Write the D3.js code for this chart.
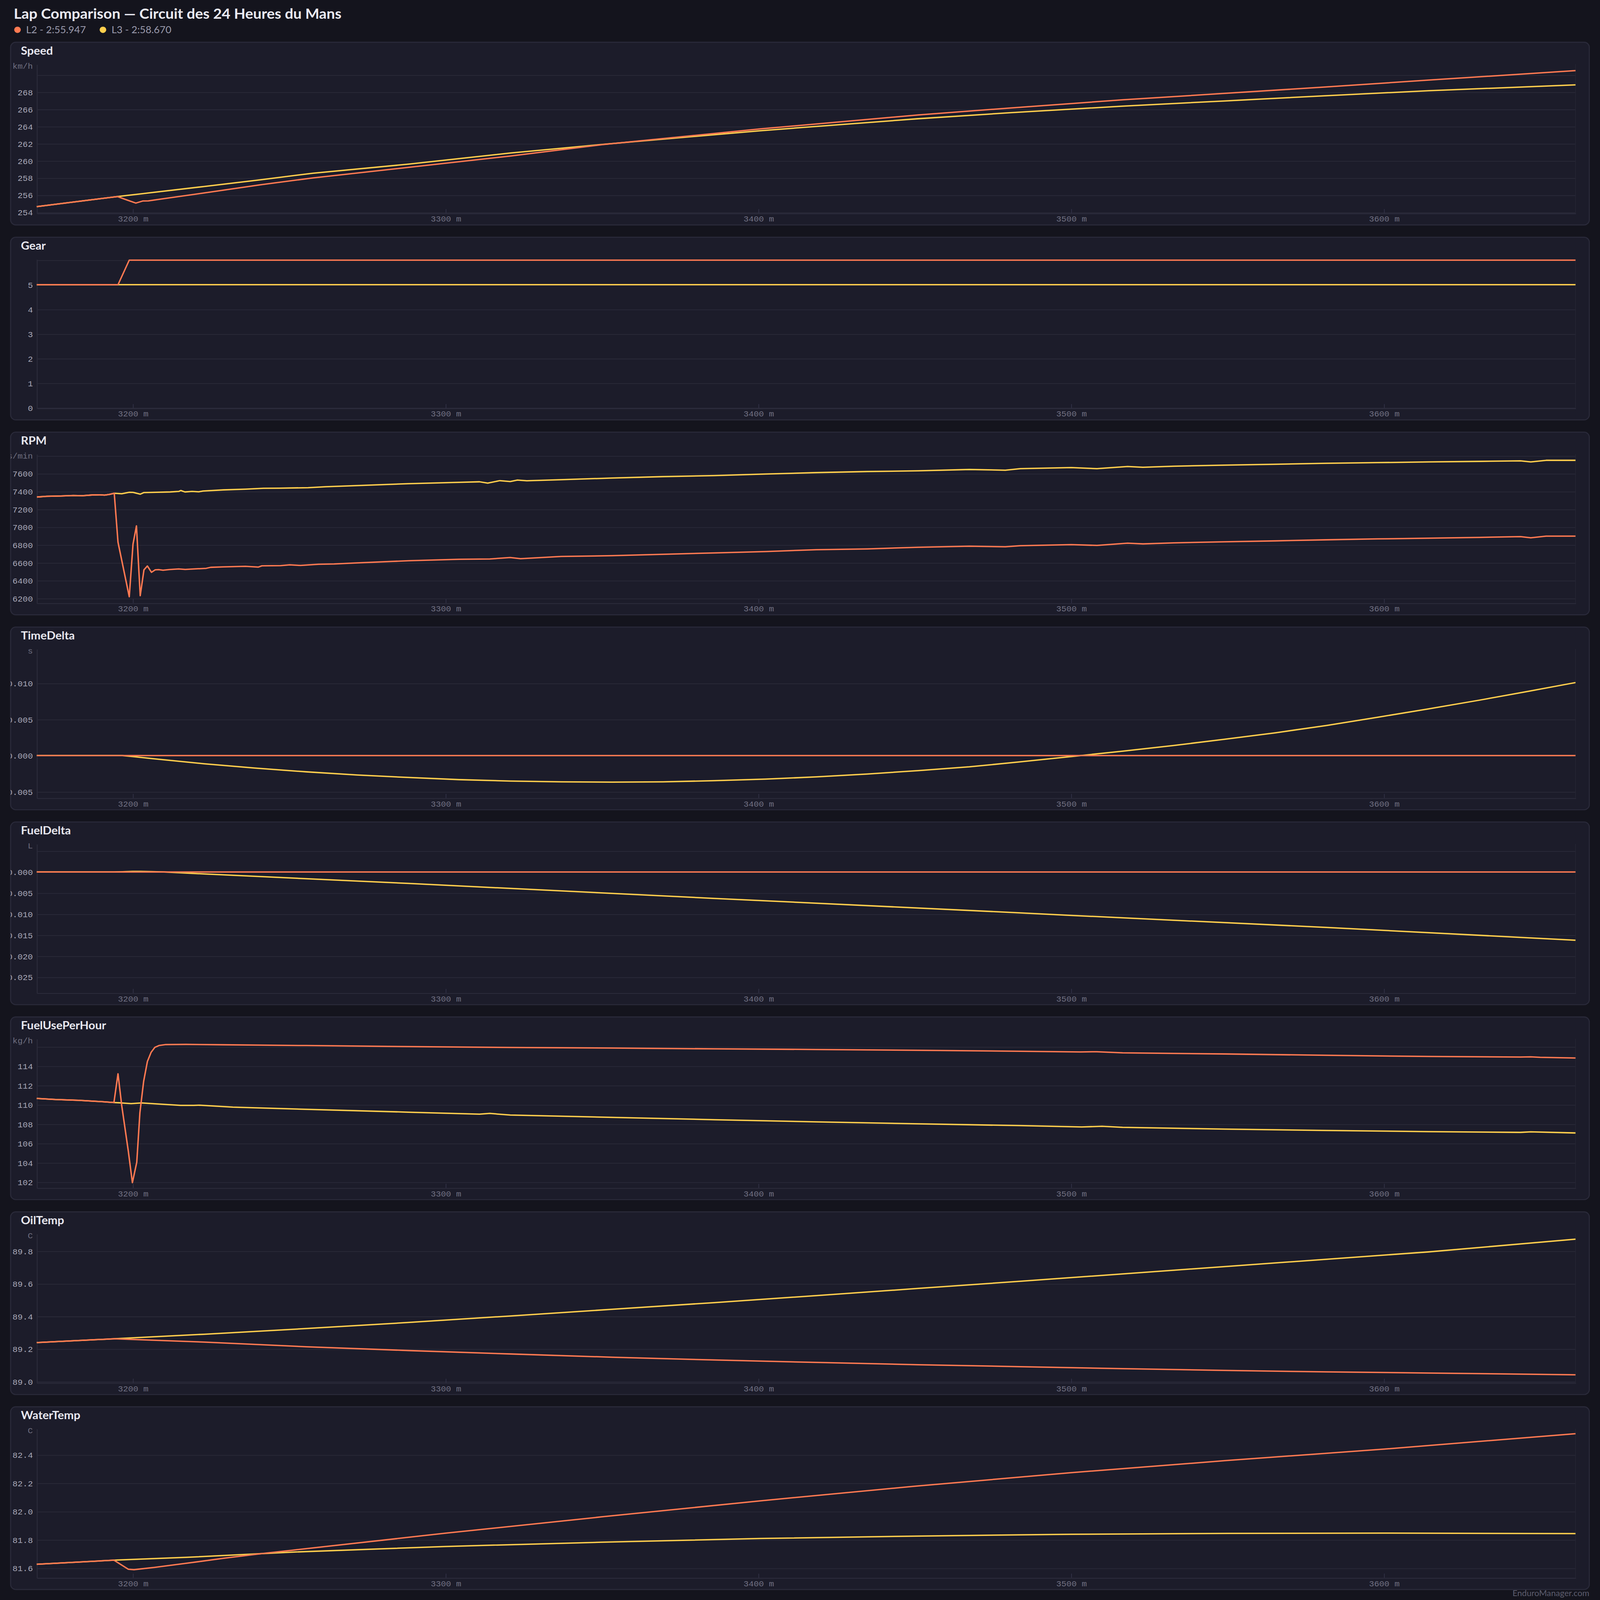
<!DOCTYPE html>
<html>
<head>
<meta charset="utf-8">
<script src="https://cdn.jsdelivr.net/npm/d3@7"></script>
<style>
  html, body { margin: 0; padding: 0; background: #14141d; overflow: hidden; }
  svg { display: block; }
</style>
</head>
<body>
<script>
// lap names shown in the legend
var lapNames = ["L2 - 2:55.947", "L3 - 2:58.670"];
var lapColors = ["#ff7a52", "#ffcf4d"];

// visible distance window (m)
var distRange = [3169.3, 3661.3];

// Speed (km/h)
var speedDist = [3169.3, 3180, 3190, 3195.1, 3198, 3201, 3203.2, 3205, 3222.8, 3240.9, 3257.6, 3288.1, 3320.7, 3350.1, 3400.6, 3451.2, 3480.6, 3516.5, 3549.1, 3581.7, 3614.3, 3661.3];
var speedL2 = [254.65, 255.14, 255.6, 255.83, 255.45, 255.07, 255.31, 255.33, 256.25, 257.2, 258.0, 259.23, 260.55, 261.88, 263.71, 265.34, 266.15, 267.1, 267.85, 268.6, 269.4, 270.5];
var speedL3 = [254.65, 255.14, 255.6, 255.83, 255.95, 256.08, 256.17, 256.25, 257.0, 257.78, 258.55, 259.6, 260.9, 261.9, 263.5, 264.9, 265.6, 266.36, 266.97, 267.58, 268.16, 268.84];

// Gear
var gearDist = [3169.3, 3195.3, 3198.9, 3661.3];
var gearL2 = [5, 5, 6, 6];
var gearL3 = [5, 5, 5, 5];

// RPM
var rpmL2Dist = [3169.4, 3172.5, 3177, 3181, 3184, 3187, 3189.5, 3191, 3192.5, 3194.1, 3195.3, 3198.9, 3200.1, 3201.2, 3202.4, 3203.6, 3204.7, 3206.0, 3207.2, 3208.3, 3209.7, 3211.8, 3214.7, 3216.8, 3219.6, 3223.5, 3224.9, 3228.8, 3236.0, 3240.2, 3241.3, 3247.3, 3250.2, 3253.7, 3259.4, 3264.4, 3271.8, 3288.1, 3304.4, 3314.2, 3320.7, 3324, 3337, 3353.3, 3369.6, 3386, 3402.3, 3418.6, 3434.9, 3451.2, 3467.5, 3479, 3483.8, 3500.1, 3508.3, 3518.1, 3523, 3532.8, 3549.1, 3565.4, 3581.7, 3598, 3614.3, 3630.6, 3643.7, 3647, 3651.9, 3661.3];
var rpmL2 = [7337, 7345, 7349, 7354, 7352, 7360, 7362, 7358, 7366, 7379, 6830, 6218, 6809, 7013, 6230, 6520, 6563, 6492, 6520, 6522, 6516, 6523, 6530, 6524, 6530, 6537, 6548, 6553, 6560, 6551, 6565, 6567, 6576, 6569, 6583, 6586, 6598, 6622, 6638, 6642, 6658, 6645, 6670, 6679, 6694, 6710, 6725, 6746, 6755, 6773, 6785, 6779, 6791, 6803, 6794, 6819, 6811, 6823, 6835, 6845, 6857, 6867, 6875, 6884, 6893, 6879, 6898, 6898];
var rpmL3Dist = [3169.4, 3172.5, 3177, 3181, 3184, 3187, 3189.5, 3191, 3192.5, 3194.1, 3196.5, 3198.9, 3200.1, 3202.4, 3203.6, 3207.6, 3212, 3214.7, 3215.4, 3216.7, 3219, 3221.1, 3222.5, 3229, 3236.1, 3241.8, 3246.8, 3256.1, 3261.8, 3269.5, 3288.1, 3304.4, 3310.9, 3313.5, 3317.4, 3320.7, 3323, 3326, 3337, 3353.3, 3369.6, 3386, 3402.3, 3418.6, 3434.9, 3451.2, 3467.5, 3479, 3483.8, 3500.1, 3508.3, 3518.1, 3523, 3532.8, 3549.1, 3565.4, 3581.7, 3598, 3614.3, 3630.6, 3643.7, 3647, 3651.9, 3661.3];
var rpmL3 = [7337, 7345, 7349, 7354, 7352, 7360, 7362, 7358, 7366, 7379, 7374, 7390, 7389, 7369, 7387, 7390, 7394, 7400, 7410, 7394, 7400, 7396, 7404, 7417, 7425, 7435, 7436, 7442, 7453, 7462, 7487, 7502, 7508, 7493, 7521, 7511, 7527, 7519, 7532, 7550, 7566, 7578, 7595, 7611, 7623, 7631, 7646, 7638, 7655, 7667, 7655, 7679, 7671, 7683, 7695, 7705, 7716, 7723, 7731, 7737, 7743, 7731, 7749, 7749];

// TimeDelta (s)
var timeL2Dist = [3169.3, 3661.3];
var timeL2 = [0, 0];
var timeL3Dist = [3169.3, 3194.1, 3196.7, 3200.0, 3206.5, 3222.8, 3239.1, 3255.5, 3271.8, 3288.1, 3304.4, 3320.7, 3337, 3353.3, 3369.6, 3386, 3402.3, 3418.6, 3434.9, 3451.2, 3467.5, 3483.8, 3500.1, 3516.5, 3532.8, 3549.1, 3565.4, 3581.7, 3598, 3614.3, 3630.6, 3646.9, 3661.3];
var timeL3 = [0, 0, 0, -0.00014, -0.00043, -0.00113, -0.00173, -0.00225, -0.00269, -0.00303, -0.00333, -0.00352, -0.00364, -0.00367, -0.00364, -0.00347, -0.00326, -0.00295, -0.00255, -0.00208, -0.00156, -0.00087, -0.00014, 0.00061, 0.00139, 0.00225, 0.00315, 0.00416, 0.00529, 0.00645, 0.00766, 0.00893, 0.01009];

// FuelDelta (L)
var fuelDL2Dist = [3169.3, 3661.3];
var fuelDL2 = [0, 0];
var fuelDL3Dist = [3169.3, 3194.1, 3196.7, 3200, 3202.5, 3206.5, 3210, 3222.8, 3288.1, 3386, 3483.8, 3500.1, 3581.7, 3661.3];
var fuelDL3 = [0, 0, 0.00005, 0.00014, 0.00015, 0.00008, 0, -0.00046, -0.00272, -0.00628, -0.00972, -0.01032, -0.01318, -0.01623];

// FuelUsePerHour (kg/h)
var fuelUL2Dist = [3169.3, 3175.4, 3182.6, 3188.5, 3194.0, 3195.3, 3196.5, 3198.6, 3199.9, 3201.3, 3202.3, 3203.5, 3204.7, 3205.9, 3207.1, 3208.4, 3210.6, 3217.1, 3229, 3240.9, 3255.5, 3288.1, 3320.7, 3353.3, 3386, 3418.6, 3451.2, 3483.8, 3503, 3508.3, 3516.5, 3549.1, 3581.7, 3614.3, 3643.7, 3647, 3650, 3661.3];
var fuelUL2 = [110.65, 110.54, 110.46, 110.35, 110.23, 113.2, 109.89, 105.19, 101.94, 104.05, 109.17, 112.42, 114.47, 115.43, 115.94, 116.12, 116.22, 116.24, 116.2, 116.16, 116.12, 116.01, 115.92, 115.86, 115.78, 115.71, 115.63, 115.53, 115.46, 115.48, 115.37, 115.25, 115.11, 114.99, 114.93, 114.95, 114.9, 114.83];
var fuelUL3Dist = [3169.3, 3175.4, 3182.6, 3188.5, 3194.0, 3196.3, 3199.5, 3202.8, 3208.2, 3215.3, 3219.5, 3221.3, 3232, 3250.9, 3288.1, 3310.9, 3314.2, 3320.7, 3353.3, 3386, 3418.6, 3451.2, 3483.8, 3503.4, 3509.9, 3516.5, 3549.1, 3581.7, 3614.3, 3643.7, 3647, 3661.3];
var fuelUL3 = [110.65, 110.54, 110.46, 110.35, 110.23, 110.19, 110.11, 110.19, 110.07, 109.93, 109.93, 109.95, 109.75, 109.57, 109.23, 109.02, 109.1, 108.93, 108.69, 108.45, 108.23, 108.02, 107.84, 107.7, 107.77, 107.66, 107.48, 107.34, 107.22, 107.14, 107.2, 107.08];

// OilTemp (C)
var oilDist = [3169.3, 3194.1, 3222.8, 3255.5, 3288.1, 3320.7, 3353.3, 3386, 3418.6, 3451.2, 3483.8, 3516.5, 3549.1, 3581.7, 3614.3, 3661.3];
var oilL2 = [89.239, 89.262, 89.242, 89.213, 89.19, 89.169, 89.149, 89.132, 89.117, 89.103, 89.091, 89.079, 89.068, 89.059, 89.052, 89.041];
var oilL3 = [89.239, 89.262, 89.29, 89.325, 89.362, 89.402, 89.443, 89.484, 89.527, 89.571, 89.615, 89.66, 89.705, 89.75, 89.795, 89.873];

// WaterTemp (C)
var waterL2Dist = [3169.3, 3194.0, 3198.6, 3200.4, 3207, 3217.1, 3229, 3240.9, 3250.9, 3300.2, 3350, 3400.6, 3450, 3500.1, 3550, 3600, 3661.3];
var waterL2 = [81.627, 81.656, 81.592, 81.589, 81.605, 81.634, 81.669, 81.702, 81.726, 81.847, 81.962, 82.075, 82.178, 82.274, 82.36, 82.44, 82.549];
var waterL3Dist = [3169.3, 3194.0, 3217.1, 3250.9, 3300.2, 3350, 3400.6, 3450, 3500.1, 3550, 3600, 3661.3];
var waterL3 = [81.627, 81.656, 81.676, 81.713, 81.753, 81.783, 81.809, 81.826, 81.839, 81.845, 81.847, 81.844];

// panel names, units and y ranges
var panelNames = ["Speed", "Gear", "RPM", "TimeDelta", "FuelDelta", "FuelUsePerHour", "OilTemp", "WaterTemp"];
var panelUnits = ["km/h", "", "revs/min", "s", "L", "kg/h", "C", "C"];
var panelDomains = [
  [253.89, 271.25], [-0.02, 6.04], [6147, 7819], [-0.00587, 0.01473],
  [-0.02876, 0.00667], [101.40, 116.81], [88.992, 89.906], [81.532, 82.584]
];

// pair up distances and values for each lap
function zip(ds, vs) { return ds.map(function(d, i) { return { d: d, v: vs[i] }; }); }
var panelSeries = [
  [zip(speedDist, speedL2), zip(speedDist, speedL3)],
  [zip(gearDist, gearL2), zip(gearDist, gearL3)],
  [zip(rpmL2Dist, rpmL2), zip(rpmL3Dist, rpmL3)],
  [zip(timeL2Dist, timeL2), zip(timeL3Dist, timeL3)],
  [zip(fuelDL2Dist, fuelDL2), zip(fuelDL3Dist, fuelDL3)],
  [zip(fuelUL2Dist, fuelUL2), zip(fuelUL3Dist, fuelUL3)],
  [zip(oilDist, oilL2), zip(oilDist, oilL3)],
  [zip(waterL2Dist, waterL2), zip(waterL3Dist, waterL3)]
];

// the layout is in css px of the original page; the svg is stretched over the window
var pageW = 1509.1, pageH = 1567.7;

var panelX = 10, panelW = 1489, panelH = 179;
var panelTop0 = 41.4, panelStep = 191;
var plotLeft = 34.6, plotRight = 1486;
var plotTop = 21.5, plotBottom = 167.5;

var monoFont = "'Liberation Mono', 'DejaVu Sans Mono', monospace";
var sansFont = "Lato, 'Noto Sans', sans-serif";

var winW = window.innerWidth || 5481, winH = window.innerHeight || 5694;

var svg = d3.select("body")
  .append("svg")
  .attr("width", winW)
  .attr("height", winH)
  .attr("viewBox", `0 0 ${pageW} ${pageH}`)
  .attr("preserveAspectRatio", "none");

svg.append("rect")
  .attr("width", pageW)
  .attr("height", pageH)
  .attr("fill", "#14141d");

// header
svg.append("text")
  .attr("x", 13)
  .attr("y", 18.3)
  .attr("font-family", sansFont)
  .attr("font-weight", 700)
  .attr("font-size", 14)
  .attr("fill", "#ebebf3")
  .text("Lap Comparison — Circuit des 24 Heures du Mans");

var legendX = [16.5, 97.1];
lapNames.forEach(function(name, i) {
  svg.append("circle")
    .attr("cx", legendX[i])
    .attr("cy", 29.2)
    .attr("r", 3.1)
    .attr("fill", lapColors[i]);
  svg.append("text")
    .attr("x", legendX[i] + 8.1)
    .attr("y", 32.5)
    .attr("font-family", sansFont)
    .attr("font-size", 9.5)
    .attr("fill", "#9a9aac")
    .text(name);
});

var x = d3.scaleLinear()
  .domain(distRange)
  .range([plotLeft, plotRight]);

var defs = svg.append("defs");

panelNames.forEach(function(name, i) {
  var g = svg.append("g")
    .attr("transform", `translate(0, ${panelTop0 + i * panelStep})`);

  defs.append("clipPath")
    .attr("id", "clip" + i)
    .append("rect")
    .attr("x", panelX)
    .attr("y", 0)
    .attr("width", panelW)
    .attr("height", panelH)
    .attr("rx", 5);

  g.append("rect")
    .attr("x", panelX)
    .attr("y", 0)
    .attr("width", panelW)
    .attr("height", panelH)
    .attr("rx", 5)
    .attr("fill", "#1c1c2a")
    .attr("stroke", "#2a2a3a")
    .attr("stroke-width", 1);

  var inner = g.append("g").attr("clip-path", `url(#clip${i})`);

  inner.append("text")
    .attr("x", 19.7)
    .attr("y", 12)
    .attr("font-family", sansFont)
    .attr("font-weight", 700)
    .attr("font-size", 11)
    .attr("fill", "#e8e8f0")
    .text(name);

  var y = d3.scaleLinear()
    .domain(panelDomains[i])
    .range([plotBottom, plotTop]);

  // y grid + labels
  var yAxis = inner.append("g")
    .attr("transform", `translate(${plotLeft}, 0)`)
    .call(d3.axisLeft(y)
      .ticks(6)
      .tickFormat(y.tickFormat(6, "f"))
      .tickSize(-(plotRight - plotLeft))
      .tickSizeOuter(0)
      .tickPadding(3.6));
  yAxis.select(".domain").attr("stroke", "#2c2c3c").attr("stroke-width", 0.8);
  yAxis.selectAll(".tick line").attr("stroke", "#2a2a39").attr("stroke-width", 0.7);
  yAxis.selectAll(".tick text")
    .attr("font-family", monoFont)
    .attr("font-size", 8)
    .attr("fill", "#a9a9b8");
  // the label right under the unit is dropped
  yAxis.selectAll(".tick")
    .filter(function(d) { return y(d) - plotTop < 13; })
    .select("text").remove();

  // faint right edge of the plot
  inner.append("line")
    .attr("x1", plotRight).attr("x2", plotRight)
    .attr("y1", plotTop).attr("y2", plotBottom)
    .attr("stroke", "#252534")
    .attr("stroke-width", 0.6);

  inner.append("text")
    .attr("x", plotLeft - 3.6)
    .attr("y", plotTop + 4.5)
    .attr("text-anchor", "end")
    .attr("font-family", monoFont)
    .attr("font-size", 8)
    .attr("fill", "#6f6f80")
    .text(panelUnits[i]);

  // x axis
  var xAxis = inner.append("g")
    .attr("transform", `translate(0, ${plotBottom})`)
    .call(d3.axisBottom(x)
      .ticks(5)
      .tickSize(-4)
      .tickSizeOuter(0)
      .tickPadding(2.6)
      .tickFormat(function(d) { return d + " m"; }));
  xAxis.select(".domain").attr("stroke", "#2c2c3c").attr("stroke-width", 0.8);
  xAxis.selectAll(".tick line").attr("stroke", "#34344a").attr("stroke-width", 0.6);
  xAxis.selectAll(".tick text")
    .attr("font-family", monoFont)
    .attr("font-size", 8)
    .attr("fill", "#717183");

  var line = d3.line()
    .x(function(p) { return x(p.d); })
    .y(function(p) { return y(p.v); });

  // L3 first so L2 sits on top
  [1, 0].forEach(function(k) {
    inner.append("path")
      .datum(panelSeries[i][k])
      .attr("d", line)
      .attr("fill", "none")
      .attr("stroke", lapColors[k])
      .attr("stroke-width", 1.35)
      .attr("stroke-linejoin", "round");
  });
});

svg.append("text")
  .attr("x", 1499)
  .attr("y", 1564)
  .attr("text-anchor", "end")
  .attr("font-family", sansFont)
  .attr("font-size", 8)
  .attr("fill", "#5d5d6e")
  .text("EnduroManager.com");
</script>
</body>
</html>
